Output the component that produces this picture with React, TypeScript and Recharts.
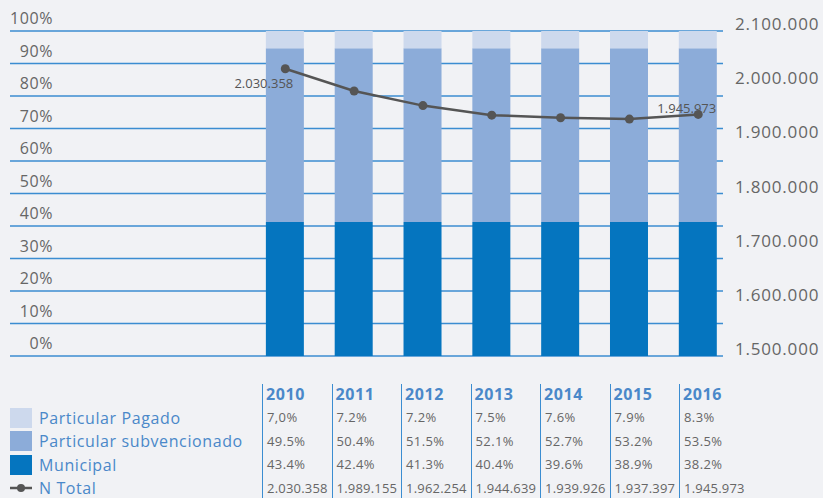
import { ComposedChart, Bar, Line, XAxis, YAxis, CartesianGrid, LabelList } from 'recharts';

const years = ['2010', '2011', '2012', '2013', '2014', '2015', '2016'];
const yearIndex = [0, 1, 2, 3, 4, 5, 6];

// bar heights as drawn in the picture (all columns look the same)
const municipalBar = [41.2, 41.2, 41.2, 41.2, 41.2, 41.2, 41.2];
const subvencionadoBar = [53.5, 53.5, 53.5, 53.5, 53.5, 53.5, 53.5];
const pagadoBar = [5.3, 5.3, 5.3, 5.3, 5.3, 5.3, 5.3];

const nTotal = [2030358, 1989155, 1962254, 1944639, 1939926, 1937397, 1945973];

// table texts
const pagadoText = ['7,0%', '7.2%', '7.2%', '7.5%', '7.6%', '7.9%', '8.3%'];
const subvencionadoText = ['49.5%', '50.4%', '51.5%', '52.1%', '52.7%', '53.2%', '53.5%'];
const municipalText = ['43.4%', '42.4%', '41.3%', '40.4%', '39.6%', '38.9%', '38.2%'];
const nTotalText = ['2.030.358', '1.989.155', '1.962.254', '1.944.639', '1.939.926', '1.937.397', '1.945.973'];

const pctTicks = [0, 10, 20, 30, 40, 50, 60, 70, 80, 90, 100];
const totalTicks = [1500000, 1600000, 1700000, 1800000, 1900000, 2000000, 2100000];

const COLORS = {
  bg: '#f1f2f5',
  grid: '#3b8dd1',
  pagado: '#cdd9ed',
  subvencionado: '#8cacd9',
  municipal: '#0575bf',
  line: '#555555',
  text: '#666666',
  blue: '#4a88c9',
};

const FONT = '"Open Sans", sans-serif';

const data = years.map((y, i) => ({
  idx: yearIndex[i],
  year: y,
  municipal: municipalBar[i],
  subvencionado: subvencionadoBar[i],
  pagado: pagadoBar[i],
  total: nTotal[i],
}));

const dots = (n: number) => String(n).replace(/\B(?=(\d{3})+(?!\d))/g, '.');

const PctTick = (props: any) => {
  const { x, y, payload } = props;
  return (
    <text x={x + 43} y={y - 13} dy={6} textAnchor="end" fill={COLORS.text} fontSize={16} fontFamily={FONT} letterSpacing={0.6}>
      {payload.value}%
    </text>
  );
};

const TotalTick = (props: any) => {
  const { x, y, payload } = props;
  return (
    <text x={x} y={y - 7} dy={6} textAnchor="start" fill={COLORS.text} fontSize={17} fontFamily={FONT} letterSpacing={0.8}>
      {dots(payload.value)}
    </text>
  );
};

// only first and last points carry a label
const EndLabel = (props: any) => {
  const { x, y, index, value } = props;
  if (index === 0) {
    return (
      <text x={x + 8} y={y + 19} textAnchor="end" fill={COLORS.line} fontSize={13} fontFamily={FONT}>
        {dots(value)}
      </text>
    );
  }
  if (index === nTotal.length - 1) {
    return (
      <text x={x + 18} y={y - 1} textAnchor="end" fill={COLORS.line} fontSize={13} fontFamily={FONT}>
        {dots(value)}
      </text>
    );
  }
  return null;
};

const rows = [
  { label: 'Particular Pagado', color: COLORS.pagado, values: pagadoText },
  { label: 'Particular subvencionado', color: COLORS.subvencionado, values: subvencionadoText },
  { label: 'Municipal', color: COLORS.municipal, values: municipalText },
];

const colLine = `1.5px solid ${COLORS.grid}`;

export default function App() {
  return (
    <div style={{ width: 823, height: 498, background: COLORS.bg, position: 'relative', overflow: 'hidden' }}>
      <style>{`body{margin:0;background:${COLORS.bg}}`}</style>
      <ComposedChart width={823} height={370} data={data} margin={{ top: 31, right: 0, bottom: 14, left: 0 }}>
        <CartesianGrid vertical={false} stroke={COLORS.grid} strokeWidth={1.3} yAxisId="pct" />
        <XAxis dataKey="idx" type="number" domain={[-4, 6.36]} ticks={yearIndex} hide />
        <YAxis
          yAxisId="pct"
          orientation="left"
          width={10}
          domain={[0, 100]}
          ticks={pctTicks}
          axisLine={false}
          tickLine={false}
          tickSize={0}
          tickMargin={0}
          tick={<PctTick />}
        />
        <YAxis
          yAxisId="total"
          orientation="right"
          width={100}
          domain={[1500000, 2100000]}
          ticks={totalTicks}
          axisLine={false}
          tickLine={false}
          tickSize={0}
          tickMargin={12}
          tick={<TotalTick />}
        />
        <Bar yAxisId="pct" dataKey="municipal" stackId="a" fill={COLORS.municipal} barSize={38} isAnimationActive={false} />
        <Bar yAxisId="pct" dataKey="subvencionado" stackId="a" fill={COLORS.subvencionado} barSize={38} isAnimationActive={false} />
        <Bar yAxisId="pct" dataKey="pagado" stackId="a" fill={COLORS.pagado} barSize={38} isAnimationActive={false} />
        <Line
          yAxisId="total"
          dataKey="total"
          stroke={COLORS.line}
          strokeWidth={2.5}
          dot={{ r: 4.5, fill: COLORS.line, stroke: COLORS.line, strokeWidth: 0 }}
          isAnimationActive={false}
        >
          <LabelList dataKey="total" content={<EndLabel />} />
        </Line>
      </ComposedChart>

      {/* table under the chart */}
      <div
        style={{
          position: 'absolute',
          top: 384,
          left: 0,
          display: 'grid',
          gridTemplateColumns: '262px repeat(7, 69.5px)',
          gridTemplateRows: '22px repeat(4, 23.5px)',
          fontFamily: FONT,
        }}
      >
        <div />
        {years.map((y) => (
          <div
            key={y}
            style={{ borderLeft: colLine, paddingLeft: 3, color: COLORS.blue, fontWeight: 700, fontSize: 16, letterSpacing: 0.6, lineHeight: '20px' }}
          >
            {y}
          </div>
        ))}
        {rows.map((r) => (
          <>
            <div key={r.label} style={{ display: 'flex', alignItems: 'center', paddingLeft: 10 }}>
              <div style={{ width: 22, height: 20, background: r.color, marginRight: 7 }} />
              <span style={{ color: COLORS.blue, fontSize: 16, fontWeight: 500, letterSpacing: 0.6 }}>{r.label}</span>
            </div>
            {r.values.map((v, i) => (
              <div
                key={r.label + i}
                style={{ borderLeft: colLine, paddingLeft: 4, color: COLORS.text, fontSize: 13, letterSpacing: 0.4, lineHeight: '23.5px' }}
              >
                {v}
              </div>
            ))}
          </>
        ))}
        <div style={{ display: 'flex', alignItems: 'center', paddingLeft: 10 }}>
          <svg width={22} height={10} style={{ marginRight: 7 }}>
            <line x1={0} y1={5} x2={22} y2={5} stroke={COLORS.line} strokeWidth={2.5} />
            <circle cx={11} cy={5} r={4} fill={COLORS.line} />
          </svg>
          <span style={{ color: COLORS.blue, fontSize: 16, fontWeight: 500, letterSpacing: 0.6 }}>N Total</span>
        </div>
        {nTotalText.map((v, i) => (
          <div
            key={'n' + i}
            style={{ borderLeft: colLine, paddingLeft: 4, color: COLORS.text, fontSize: 13, letterSpacing: 0.2, lineHeight: '23.5px', whiteSpace: 'nowrap' }}
          >
            {v}
          </div>
        ))}
      </div>
    </div>
  );
}
